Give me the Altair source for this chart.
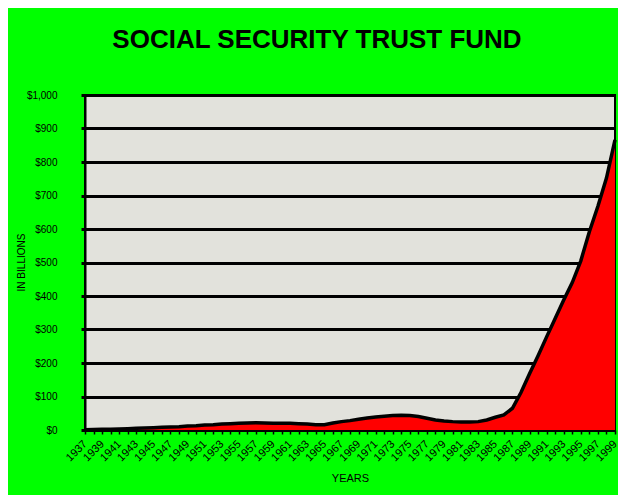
import altair as alt
import pandas as pd

years = list(range(1937, 2000))
values = [1, 1.5, 2, 2, 3, 4, 5, 6, 7, 8,
          9, 10, 12, 13, 15, 16, 18, 19, 20, 21,
          22, 21, 20, 20, 20, 19, 18, 16, 16, 21,
          25, 28, 32, 36, 39, 41, 43, 44, 43, 40,
          35, 30, 27, 25, 24, 24, 25, 30, 38, 45,
          65, 112, 168, 222, 278, 333, 388, 440, 505, 592,
          668, 752, 866]
y_ticks = [0, 100, 200, 300, 400, 500, 600, 700, 800, 900, 1000]

df = pd.DataFrame({"year": years, "value": values})

FONT = "Liberation Sans, Arial, sans-serif"

x_enc = alt.X(
    "year:Q",
    scale=alt.Scale(domain=[1937, 1999], nice=False, zero=False),
    axis=alt.Axis(
        values=years,
        tickCount=63,
        labelExpr="datum.value % 2 == 1 ? '' + datum.value : ''",
        labelAngle=-45,
        labelAlign="right",
        labelBaseline="middle",
        labelPadding=8,
        labelOverlap=False,
        labelBound=False,
        labelFlush=False,
        labelFont=FONT,
        labelFontSize=11,
        labelColor="black",
        tickColor="black",
        tickSize=4,
        tickWidth=1.5,
        domainColor="black",
        domainWidth=2,
        grid=False,
        title="YEARS",
        titleFont=FONT,
        titleFontSize=11,
        titleFontWeight="normal",
        titleColor="black",
        titleX=265,
        titleY=48,
        titleAlign="center",
        titleBaseline="middle",
    ),
)

y_enc = alt.Y(
    "value:Q",
    scale=alt.Scale(domain=[0, 1000], nice=False),
    axis=alt.Axis(
        values=y_ticks,
        tickCount=11,
        labelExpr="'$' + format(datum.value, ',')",
        labelFont=FONT,
        labelFontSize=10,
        labelColor="black",
        labelPadding=24,
        labelOverlap=False,
        tickColor="black",
        tickSize=4,
        tickWidth=3,
        domainColor="black",
        domainWidth=2,
        grid=True,
        gridColor="black",
        gridWidth=3,
        gridOpacity=1,
        title="IN BILLIONS",
        titleFont=FONT,
        titleFontSize=10,
        titleFontWeight="normal",
        titleColor="black",
        titleAngle=-90,
        titleX=-64,
        titleY=167,
        titleAlign="center",
        titleBaseline="middle",
    ),
)

base = alt.Chart(df).encode(x=x_enc, y=y_enc)
area = base.mark_area(color="#ff0000", opacity=1)
line = base.mark_line(color="black", strokeWidth=3.5)

chart = (
    alt.layer(area, line)
    .properties(
        width=530,
        height=335,
        autosize=alt.AutoSizeParams(type="none"),
        padding={"left": 77, "top": 87, "right": 3, "bottom": 65},
        background="#00ff00",
        title=alt.TitleParams(
            "SOCIAL SECURITY TRUST FUND",
            font=FONT,
            fontSize=26,
            fontWeight="bold",
            color="black",
            anchor="middle",
            frame="group",
            dx=-33,
            offset=37,
        ),
    )
    .configure_view(fill="#e2e2dc", stroke="black", strokeWidth=2)
)

chart.save("out.html", embed_options={"renderer": "svg", "actions": False})
